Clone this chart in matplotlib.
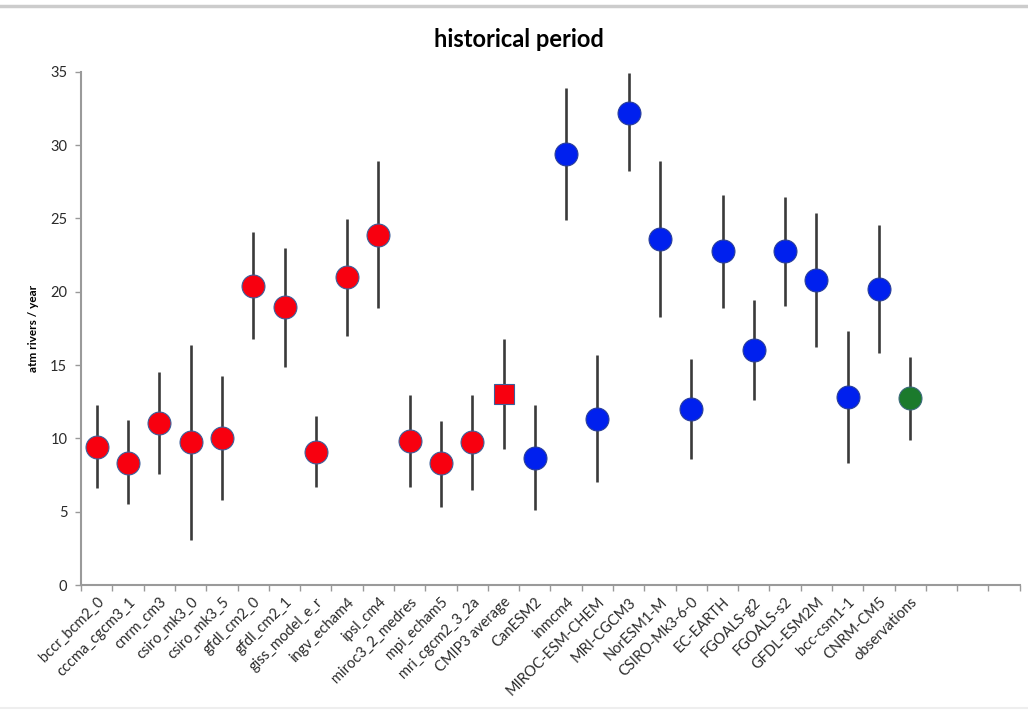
import matplotlib.pyplot as plt
from matplotlib.lines import Line2D
import numpy as np

plt.rcParams['font.family'] = ['Lato', 'DejaVu Sans']

models = ['bccr_bcm2_0', 'cccma_cgcm3_1', 'cnrm_cm3', 'csiro_mk3_0', 'csiro_mk3_5',
          'gfdl_cm2_0', 'gfdl_cm2_1', 'giss_model_e_r', 'ingv_echam4', 'ipsl_cm4',
          'miroc3_2_medres', 'mpi_echam5', 'mri_cgcm2_3_2a', 'CMIP3 average',
          'CanESM2', 'inmcm4', 'MIROC-ESM-CHEM', 'MRI-CGCM3', 'NorESM1-M',
          'CSIRO-Mk3-6-0', 'EC-EARTH', 'FGOALS-g2', 'FGOALS-s2', 'GFDL-ESM2M',
          'bcc-csm1-1', 'CNRM-CM5', 'observations']
mean = [9.4, 8.35, 11.05, 9.75, 10.05, 20.4, 18.95, 9.1, 21.0, 23.9,
        9.8, 8.3, 9.75, 13.05,
        8.7, 29.4, 11.3, 32.2, 23.6, 12.0, 22.75, 16.0, 22.75, 20.8,
        12.8, 20.2, 12.75]
low = [6.6, 5.5, 7.6, 3.1, 5.8, 16.8, 14.9, 6.7, 17.0, 18.9,
       6.7, 5.35, 6.5, 9.3,
       5.1, 24.9, 7.0, 28.25, 18.3, 8.6, 18.9, 12.6, 19.0, 16.25,
       8.35, 15.85, 9.9]
high = [12.3, 11.25, 14.55, 16.35, 14.25, 24.05, 23.0, 11.5, 24.95, 28.95,
        12.95, 11.2, 12.95, 16.75,
        12.3, 33.9, 15.7, 34.95, 28.95, 15.45, 26.6, 19.45, 26.45, 25.4,
        17.3, 24.55, 15.55]
n_slots = 30  # three empty slots after observations

red = '#f8000f'
blue = '#0020ee'
green = '#1b7a2c'
edge = '#3c5f9a'

fig = plt.figure(figsize=(10.28, 7.11), dpi=100)
ax = fig.add_axes([0.079, 0.177, 0.913, 0.722])

x = np.arange(len(models))
mean = np.array(mean)
low = np.array(low)
high = np.array(high)

ax.vlines(x, low, high, color='#3a3a3a', lw=1.9, zorder=2)

cmip3 = x[:13]
cmip5 = x[14:26]
ax.plot(cmip3, mean[:13], 'o', ms=16.5, mfc=red, mec=edge, mew=0.8, zorder=3)
ax.plot(x[13], mean[13], 's', ms=15, mfc=red, mec=edge, mew=0.8, zorder=3)
ax.plot(cmip5, mean[14:26], 'o', ms=16.5, mfc=blue, mec='#2a3f9a', mew=0.8, zorder=3)
ax.plot(x[26], mean[26], 'o', ms=16.5, mfc=green, mec='#3a6a7a', mew=0.8, zorder=3)

ax.set_xlim(-0.5, n_slots - 0.5)
ax.set_ylim(0, 35)
ax.set_yticks(np.arange(0, 36, 5))
ax.set_xticks(x)
ax.set_xticklabels(models, rotation=45, ha='right', rotation_mode='anchor',
                   fontsize=10.5, color='#2a2a2a')
ax.set_xticks(np.arange(n_slots + 1) - 0.5, minor=True)
ax.tick_params(axis='x', which='major', length=0, pad=7)
ax.tick_params(axis='x', which='minor', length=4, color='#999999', width=1)
ax.tick_params(axis='y', length=4, color='#999999', width=1, labelsize=10.5,
               labelcolor='#2a2a2a', pad=6)

for side in ['top', 'right']:
    ax.spines[side].set_visible(False)
for side in ['left', 'bottom']:
    ax.spines[side].set_color('#9a9a9a')
    ax.spines[side].set_linewidth(1.5)

ax.set_ylabel('atm rivers / year', fontsize=8.5, fontweight='bold', labelpad=8)
fig.text(0.505, 0.945, 'historical period', ha='center', va='center',
         fontsize=17, fontweight='bold')

fig.add_artist(Line2D([0.0, 1.0], [0.991, 0.991], color='#cccccc', lw=2.5))
fig.add_artist(Line2D([0.0, 1.0], [0.004, 0.004], color='#eeeeee', lw=1.5))

plt.savefig('out.png', dpi=100, facecolor='white')
